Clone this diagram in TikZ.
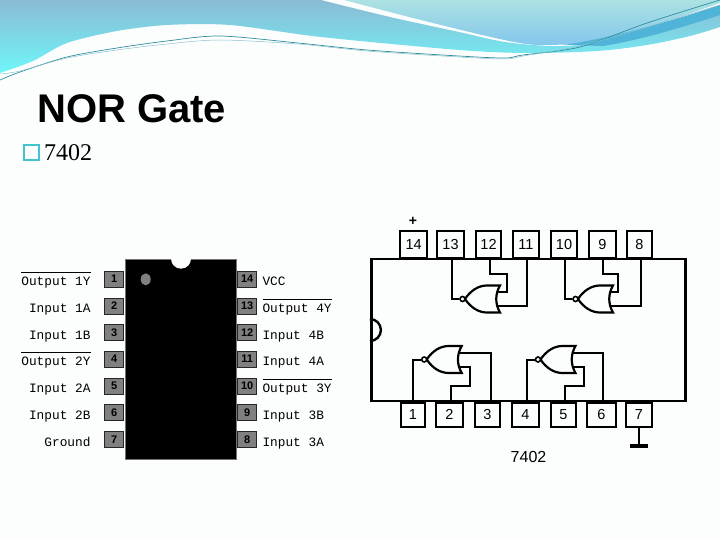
\documentclass[tikz,border=0pt]{standalone}
\usepackage{amsmath}
\usepackage{fontspec}
\usetikzlibrary{shapes.geometric}
\setmainfont{Liberation Serif}
\setsansfont{Liberation Sans}
\newfontfamily\pinfont{Liberation Mono}
\definecolor{paper}{HTML}{FCFEFE}
\definecolor{bandtop}{HTML}{8ABBD5}
\definecolor{bandlow}{HTML}{6FF6F8}
\definecolor{lighttop}{HTML}{ACE2E2}
\definecolor{lightlow}{HTML}{84C6EC}
\definecolor{swoosh}{HTML}{4FB4D8}
\definecolor{wisp}{HTML}{2F8FA0}
\definecolor{bullet}{HTML}{43C3D0}
\newcommand{\ovl}[1]{$\overline{\rule{0pt}{11.5pt}\text{#1}}$}
\newcommand{\norgate}[3]{
  \begin{scope}[shift={(#2,#3)}]
    \draw[gateline] (0,0) .. controls (6,-9) and (14,-13.5) .. (22,-13.5) -- (35,-13.5)
      .. controls (30,-5) and (30,5) .. (35,13.5) -- (22,13.5)
      .. controls (14,13.5) and (6,9) .. (0,0);
    \node[bubble] (#1o) at (-2.5,0) {};
    \coordinate (#1a) at (32.5,-7);
    \coordinate (#1b) at (32.5,7);
  \end{scope}
}
\tikzset{
  wire/.style={line width=2pt},
  gateline/.style={line width=2.2pt, fill=paper},
  bubble/.style={circle, draw, line width=1.6pt, fill=paper, minimum size=5pt, inner sep=0pt},
  chippin/.style={rectangle, draw, line width=2pt, fill=paper, inner sep=0pt,
    font=\sffamily\fontsize{14.5}{14.5}\selectfont},
  dippin/.style={rectangle, draw=black!85, line width=1pt, fill=black!50, inner sep=0pt,
    minimum width=19pt, minimum height=16pt,
    font=\sffamily\bfseries\fontsize{11}{11}\selectfont},
  pinlabel/.style={inner sep=0pt, font=\pinfont\fontsize{12.8}{12.8}\selectfont}
}

\begin{document}
\begin{tikzpicture}[x=1pt, y=-1pt]

  \useasboundingbox (0,0) rectangle (720,540);
  \fill[paper] (0,0) rectangle (720,540);

  \shade[top color=bandtop, bottom color=bandlow]
    (0,0) -- plot[smooth] coordinates {(0,73) (33,61) (67,43) (117,31) (167,25) (230,25) (321,37) (459,50) (528,53) (597,51) (647,45) (690,36) (720,27)}
    -- (720,5) -- plot[smooth] coordinates {(640,32) (590,44) (551,46) (505,42) (459,32) (390,17) (321,0)} -- cycle;
  \shade[top color=lighttop, bottom color=lightlow]
    (344,0) -- plot[smooth] coordinates {(344,0) (413,18) (482,35) (520,43) (545,45) (597,42) (647,28) (720,3)} -- (720,0) -- cycle;
  \fill[swoosh] (563,45) .. controls (600,40) and (660,25) .. (720,5)
    -- (720,15) .. controls (680,28) and (640,40) .. (603,46) -- cycle;

  \draw[wisp, line width=0.7pt] plot[smooth] coordinates {(0,80) (20,72) (67,57) (117,48) (167,41) (220,36) (298,43) (367,50) (459,56) (505,58) (523,55) (580,47) (647,23) (720,0)};
  \draw[wisp!55, line width=0.5pt] plot[smooth] coordinates {(0,74) (20,71) (67,58) (117,50) (167,44) (220,40) (298,44) (367,51) (459,57) (505,59) (523,56) (580,46) (647,27) (720,5)};

  \node[anchor=base west, inner sep=0pt, font=\sffamily\bfseries\fontsize{40}{40}\selectfont] (title) at (37,122.7) {NOR Gate};
  \node[draw=bullet, line width=2pt, minimum size=15pt, inner sep=0pt] (mark) at (31.5,152.5) {};
  \node[anchor=base west, inner sep=0pt, font=\fontsize{24}{24}\selectfont] (part) at (44,161) {7402};

  % package pinout
  \node[draw=black!55, line width=1pt, fill=black, minimum width=111pt, minimum height=200pt, inner sep=0pt] (dip) at (181,359.2) {};
  \fill[paper] ([xshift=-10pt]dip.north) arc (180:360:10pt) -- cycle;
  \node[ellipse, fill=black!50, minimum width=10pt, minimum height=12pt, inner sep=0pt] (dot) at (145.7,279.3) {};

  \foreach \n/\y/\txt in {1/279/\ovl{Output 1Y}, 2/306/Input 1A, 3/332.7/Input 1B, 4/359/\ovl{Output 2Y},
      5/386/Input 2A, 6/412.5/Input 2B, 7/439.5/Ground} {
    \node[dippin] (lp\n) at (114.3,\y) {\n};
    \node[pinlabel, anchor=base east] (ll\n) at (90.7,\y+6.5) {\txt};
  }
  \foreach \n/\y/\txt in {14/279/VCC, 13/306/\ovl{Output 4Y}, 12/332.7/Input 4B, 11/359/Input 4A,
      10/386/\ovl{Output 3Y}, 9/412.5/Input 3B, 8/439.5/Input 3A} {
    \node[dippin] (rp\n) at (247.2,\y) {\n};
    \node[pinlabel, anchor=base west] (rl\n) at (262.3,\y+6.5) {\txt};
  }

  % logic diagram
  \node[draw, line width=2.6pt, minimum width=314pt, minimum height=142pt, inner sep=0pt] (chip) at (528.2,330) {};
  \draw[line width=2.4pt] ([yshift=11pt]chip.west) arc (90:-90:11pt);

  \foreach \n/\x/\w in {14/413.7/26.5, 13/450.5/27, 12/488.5/25, 11/526/26, 10/564/26, 9/602.5/27, 8/639.5/25} {
    \node[chippin, minimum width=\w pt, minimum height=27pt] (p\n) at (\x,244.5) {\n};
  }
  \foreach \n/\x/\w in {1/413/24, 2/449.5/27, 3/487.5/25, 4/525.5/27, 5/563.5/25, 6/601.5/29, 7/639/26} {
    \node[chippin, minimum width=\w pt, minimum height=24pt] (p\n) at (\x,414.5) {\n};
  }

  \node[inner sep=0pt, font=\sffamily\bfseries\fontsize{14}{14}\selectfont] (plus) at (413,221.7) {+};
  \node[inner sep=0pt, font=\sffamily\fontsize{16}{16}\selectfont] (name) at (528.5,457) {7402};
  \coordinate (gnd) at (639,446);
  \draw[wire] (p7.south) -- (gnd);
  \draw[line width=4.4pt] ([xshift=-9pt]gnd) -- ([xshift=9pt]gnd);

  \norgate{ga}{465}{299}
  \norgate{gb}{578}{299}
  \norgate{gc}{426.7}{359.5}
  \norgate{gd}{540.5}{359.5}

  \draw[wire] ([xshift=1.5pt]p13.south) |- (gao);
  \draw[wire] ([xshift=1.5pt]p12.south) -- ++(0,15) -- ++(17,0) |- (gaa);
  \draw[wire] ([xshift=0.7pt]p11.south) |- (gab);

  \draw[wire] ([xshift=0.7pt]p10.south) |- (gbo);
  \draw[wire] ([xshift=0.5pt]p9.south) -- ++(0,15) -- ++(15,0) |- (gba);
  \draw[wire] ([xshift=1.2pt]p8.south) |- (gbb);

  \draw[wire] (p1.north) |- (gco);
  \draw[wire] ([xshift=1.5pt]p2.north) -- ++(0,-16) -- ++(19,0) |- (gcb);
  \draw[wire] ([xshift=3.2pt]p3.north) |- (gca);

  \draw[wire] ([xshift=1.2pt]p4.north) |- (gdo);
  \draw[wire] ([xshift=1.5pt]p5.north) -- ++(0,-16) -- ++(19,0) |- (gdb);
  \draw[wire] ([xshift=1.5pt]p6.north) |- (gda);

\end{tikzpicture}
\end{document}
